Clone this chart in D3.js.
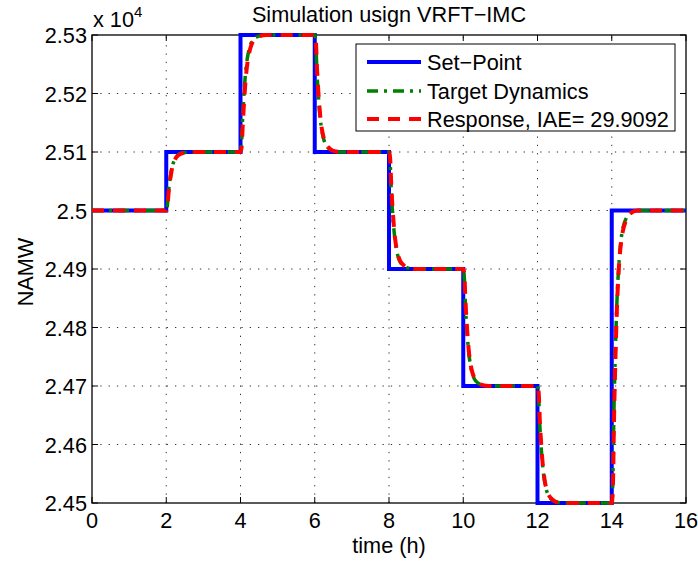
<!DOCTYPE html>
<html>
<head>
<meta charset="utf-8">
<script src="https://cdn.jsdelivr.net/npm/d3@7"></script>
<style>
  body { margin: 0; background: #fff; }
  text { font-family: "Liberation Sans", Arial, sans-serif; fill: #000; }
</style>
</head>
<body>
<svg id="chart" width="698" height="563"></svg>
<script>
// set-point levels, held from each time until the next one
let spTimes = [0, 2, 4, 6, 8, 10, 12, 14, 16];
let spLevels = [25000, 25100, 25300, 25100, 24900, 24700, 24500, 25000, 25000];

// target dynamics (green)
let target = [
  [0, 25000], [2, 25000], [2.03, 25008], [2.06, 25032], [2.1, 25053], [2.15, 25072], [2.2, 25083], [2.25, 25090], [2.3, 25094], [2.4, 25098], [2.5, 25099], [2.7, 25100],
  [4, 25100], [4.03, 25116], [4.06, 25164], [4.1, 25206], [4.15, 25244], [4.2, 25266], [4.25, 25280], [4.3, 25288], [4.4, 25295], [4.5, 25298], [4.7, 25300],
  [6, 25300], [6.03, 25284], [6.06, 25236], [6.1, 25194], [6.15, 25156], [6.2, 25134], [6.25, 25120], [6.3, 25112], [6.4, 25105], [6.5, 25102], [6.7, 25100],
  [8, 25100], [8.03, 25084], [8.06, 25036], [8.1, 24994], [8.15, 24956], [8.2, 24934], [8.25, 24920], [8.3, 24912], [8.4, 24905], [8.5, 24902], [8.7, 24900],
  [10, 24900], [10.03, 24884], [10.06, 24836], [10.1, 24794], [10.15, 24756], [10.2, 24734], [10.25, 24720], [10.3, 24712], [10.4, 24705], [10.5, 24702], [10.7, 24700],
  [12, 24700], [12.03, 24684], [12.06, 24636], [12.1, 24594], [12.15, 24556], [12.2, 24534], [12.25, 24520], [12.3, 24512], [12.4, 24505], [12.5, 24502], [12.7, 24500],
  [14, 24500], [14.03, 24540], [14.06, 24660], [14.1, 24765], [14.15, 24860], [14.2, 24915], [14.25, 24950], [14.3, 24970], [14.4, 24988], [14.5, 24995], [14.7, 25000],
  [16, 25000]
];

// closed loop response (red)
let response = [
  [0, 25000], [2, 25000], [2.03, 25005], [2.06, 25028], [2.1, 25050], [2.15, 25070], [2.2, 25082], [2.25, 25089], [2.3, 25093], [2.4, 25097], [2.5, 25099], [2.7, 25100],
  [4, 25100], [4.03, 25108], [4.06, 25145], [4.1, 25190], [4.15, 25232], [4.2, 25258], [4.25, 25274], [4.3, 25284], [4.4, 25293], [4.5, 25298], [4.7, 25300],
  [6, 25300], [6.03, 25290], [6.06, 25244], [6.1, 25200], [6.15, 25160], [6.2, 25136], [6.25, 25122], [6.3, 25114], [6.4, 25106], [6.5, 25102], [6.7, 25100],
  [8, 25100], [8.03, 25090], [8.06, 25044], [8.1, 25000], [8.15, 24960], [8.2, 24936], [8.25, 24922], [8.3, 24914], [8.4, 24906], [8.5, 24902], [8.7, 24900],
  [10, 24900], [10.03, 24890], [10.06, 24844], [10.1, 24800], [10.15, 24760], [10.2, 24736], [10.25, 24722], [10.3, 24714], [10.4, 24706], [10.5, 24702], [10.7, 24700],
  [12, 24700], [12.03, 24690], [12.06, 24644], [12.1, 24600], [12.15, 24560], [12.2, 24536], [12.25, 24522], [12.3, 24514], [12.4, 24506], [12.5, 24502], [12.7, 24500],
  [14, 24500], [14.03, 24525], [14.06, 24640], [14.1, 24750], [14.15, 24850], [14.2, 24910], [14.25, 24945], [14.3, 24965], [14.4, 24985], [14.5, 24995], [14.7, 25000],
  [16, 25000]
];

let xTicks = [0, 2, 4, 6, 8, 10, 12, 14, 16];
let yTicks = [24500, 24600, 24700, 24800, 24900, 25000, 25100, 25200, 25300];
let yTickLabels = ["2.45", "2.46", "2.47", "2.48", "2.49", "2.5", "2.51", "2.52", "2.53"];
let legendNames = ["Set\u2212Point", "Target Dynamics", "Response, IAE= 29.9092"];

const svg = d3.select("#chart");
const pLeft = 92, pRight = 686, pTop = 35, pBottom = 503;

let x = d3.scaleLinear().domain([0, 16]).range([pLeft, pRight]);
let y = d3.scaleLinear().domain([24500, 25300]).range([pBottom, pTop]);

const fs = 21.7;

/* -------------------- grid -------------------- */
let grid = svg.append("g");
xTicks.slice(1, -1).forEach((t) => {
  grid.append("line")
    .attr("x1", x(t)).attr("x2", x(t))
    .attr("y1", pBottom).attr("y2", pTop)
    .attr("stroke", "#333")
    .attr("stroke-width", 1)
    .attr("stroke-dasharray", "1.3,7");
});
yTicks.slice(1, -1).forEach((t) => {
  grid.append("line")
    .attr("x1", pLeft).attr("x2", pRight)
    .attr("y1", y(t)).attr("y2", y(t))
    .attr("stroke", "#333")
    .attr("stroke-width", 1)
    .attr("stroke-dasharray", "1.3,7");
});

/* -------------------- ticks (inside, all four sides) -------------------- */
let ticks = svg.append("g").attr("stroke", "#000").attr("stroke-width", 1);
xTicks.forEach((t) => {
  ticks.append("line").attr("x1", x(t)).attr("x2", x(t)).attr("y1", pBottom).attr("y2", pBottom - 6);
  ticks.append("line").attr("x1", x(t)).attr("x2", x(t)).attr("y1", pTop).attr("y2", pTop + 6);
});
yTicks.forEach((t) => {
  ticks.append("line").attr("x1", pLeft).attr("x2", pLeft + 6).attr("y1", y(t)).attr("y2", y(t));
  ticks.append("line").attr("x1", pRight).attr("x2", pRight - 6).attr("y1", y(t)).attr("y2", y(t));
});

svg.append("rect")
  .attr("x", pLeft).attr("y", pTop)
  .attr("width", pRight - pLeft).attr("height", pBottom - pTop)
  .attr("fill", "none")
  .attr("stroke", "#000")
  .attr("stroke-width", 1.3);

/* -------------------- tick labels -------------------- */
svg.append("g").selectAll("text")
  .data(xTicks)
  .join("text")
  .attr("x", (d) => x(d))
  .attr("y", 528)
  .attr("text-anchor", "middle")
  .attr("font-size", fs)
  .text((d) => d);

svg.append("g").selectAll("text")
  .data(yTicks)
  .join("text")
  .attr("x", pLeft - 5)
  .attr("y", (d) => y(d) + 8)
  .attr("text-anchor", "end")
  .attr("font-size", fs)
  .text((d, i) => yTickLabels[i]);

// exponent label
let expo = svg.append("text").attr("x", pLeft + 1).attr("y", 27).attr("font-size", fs);
expo.append("tspan").text("x 10");
expo.append("tspan").attr("font-size", 15).attr("dy", -10).text("4");

/* -------------------- titles -------------------- */
svg.append("text")
  .attr("x", (pLeft + pRight) / 2)
  .attr("y", 22)
  .attr("text-anchor", "middle")
  .attr("font-size", fs)
  .text("Simulation usign VRFT\u2212IMC");

svg.append("text")
  .attr("x", (pLeft + pRight) / 2)
  .attr("y", 553)
  .attr("text-anchor", "middle")
  .attr("font-size", fs)
  .text("time (h)");

svg.append("text")
  .attr("transform", "translate(33," + (y(24900) + 3) + ") rotate(-90)")
  .attr("text-anchor", "middle")
  .attr("font-size", fs)
  .text("NAMW");

/* -------------------- series -------------------- */
let spData = spTimes.map((t, i) => [t, spLevels[i]]);

let stepLine = d3.line()
  .x((d) => x(d[0]))
  .y((d) => y(d[1]))
  .curve(d3.curveStepAfter);

let smoothLine = d3.line()
  .x((d) => x(d[0]))
  .y((d) => y(d[1]))
  .curve(d3.curveMonotoneX);

svg.append("path")
  .attr("d", stepLine(spData))
  .attr("fill", "none")
  .attr("stroke", "#0000ff")
  .attr("stroke-width", 4);

svg.append("path")
  .attr("d", smoothLine(target))
  .attr("fill", "none")
  .attr("stroke", "#008000")
  .attr("stroke-width", 3.5)
  .attr("stroke-dasharray", "11,6,3,6");

svg.append("path")
  .attr("d", smoothLine(response))
  .attr("fill", "none")
  .attr("stroke", "#ff0000")
  .attr("stroke-width", 4)
  .attr("stroke-dasharray", "12,9");

/* -------------------- legend -------------------- */
let legend = svg.append("g");
legend.append("rect")
  .attr("x", 356).attr("y", 44)
  .attr("width", 319).attr("height", 87)
  .attr("fill", "#fff")
  .attr("stroke", "#000")
  .attr("stroke-width", 1);

let legendColors = ["#0000ff", "#008000", "#ff0000"];
let legendDash = [null, "11,6,3,6", "12,9"];
let legendWidth = [4, 3.5, 4];
let rowY = [62, 91, 119];

let legendTexts = [];
legendNames.forEach((name, i) => {
  legend.append("line")
    .attr("x1", 367).attr("x2", 421)
    .attr("y1", rowY[i]).attr("y2", rowY[i])
    .attr("stroke", legendColors[i])
    .attr("stroke-width", legendWidth[i])
    .attr("stroke-dasharray", legendDash[i]);
  let t = legend.append("text")
    .attr("x", 427)
    .attr("y", rowY[i] + 7.5)
    .attr("font-size", fs)
    .text(name);
  legendTexts.push(t);
});

// keep the longest entry inside the box (about 242px wide in the original)
let longest = d3.max(legendTexts, (t) => t.node().getComputedTextLength());
if (longest > 242) {
  let lfs = fs * 242 / longest;
  legendTexts.forEach((t) => t.attr("font-size", lfs));
}
</script>
</body>
</html>
